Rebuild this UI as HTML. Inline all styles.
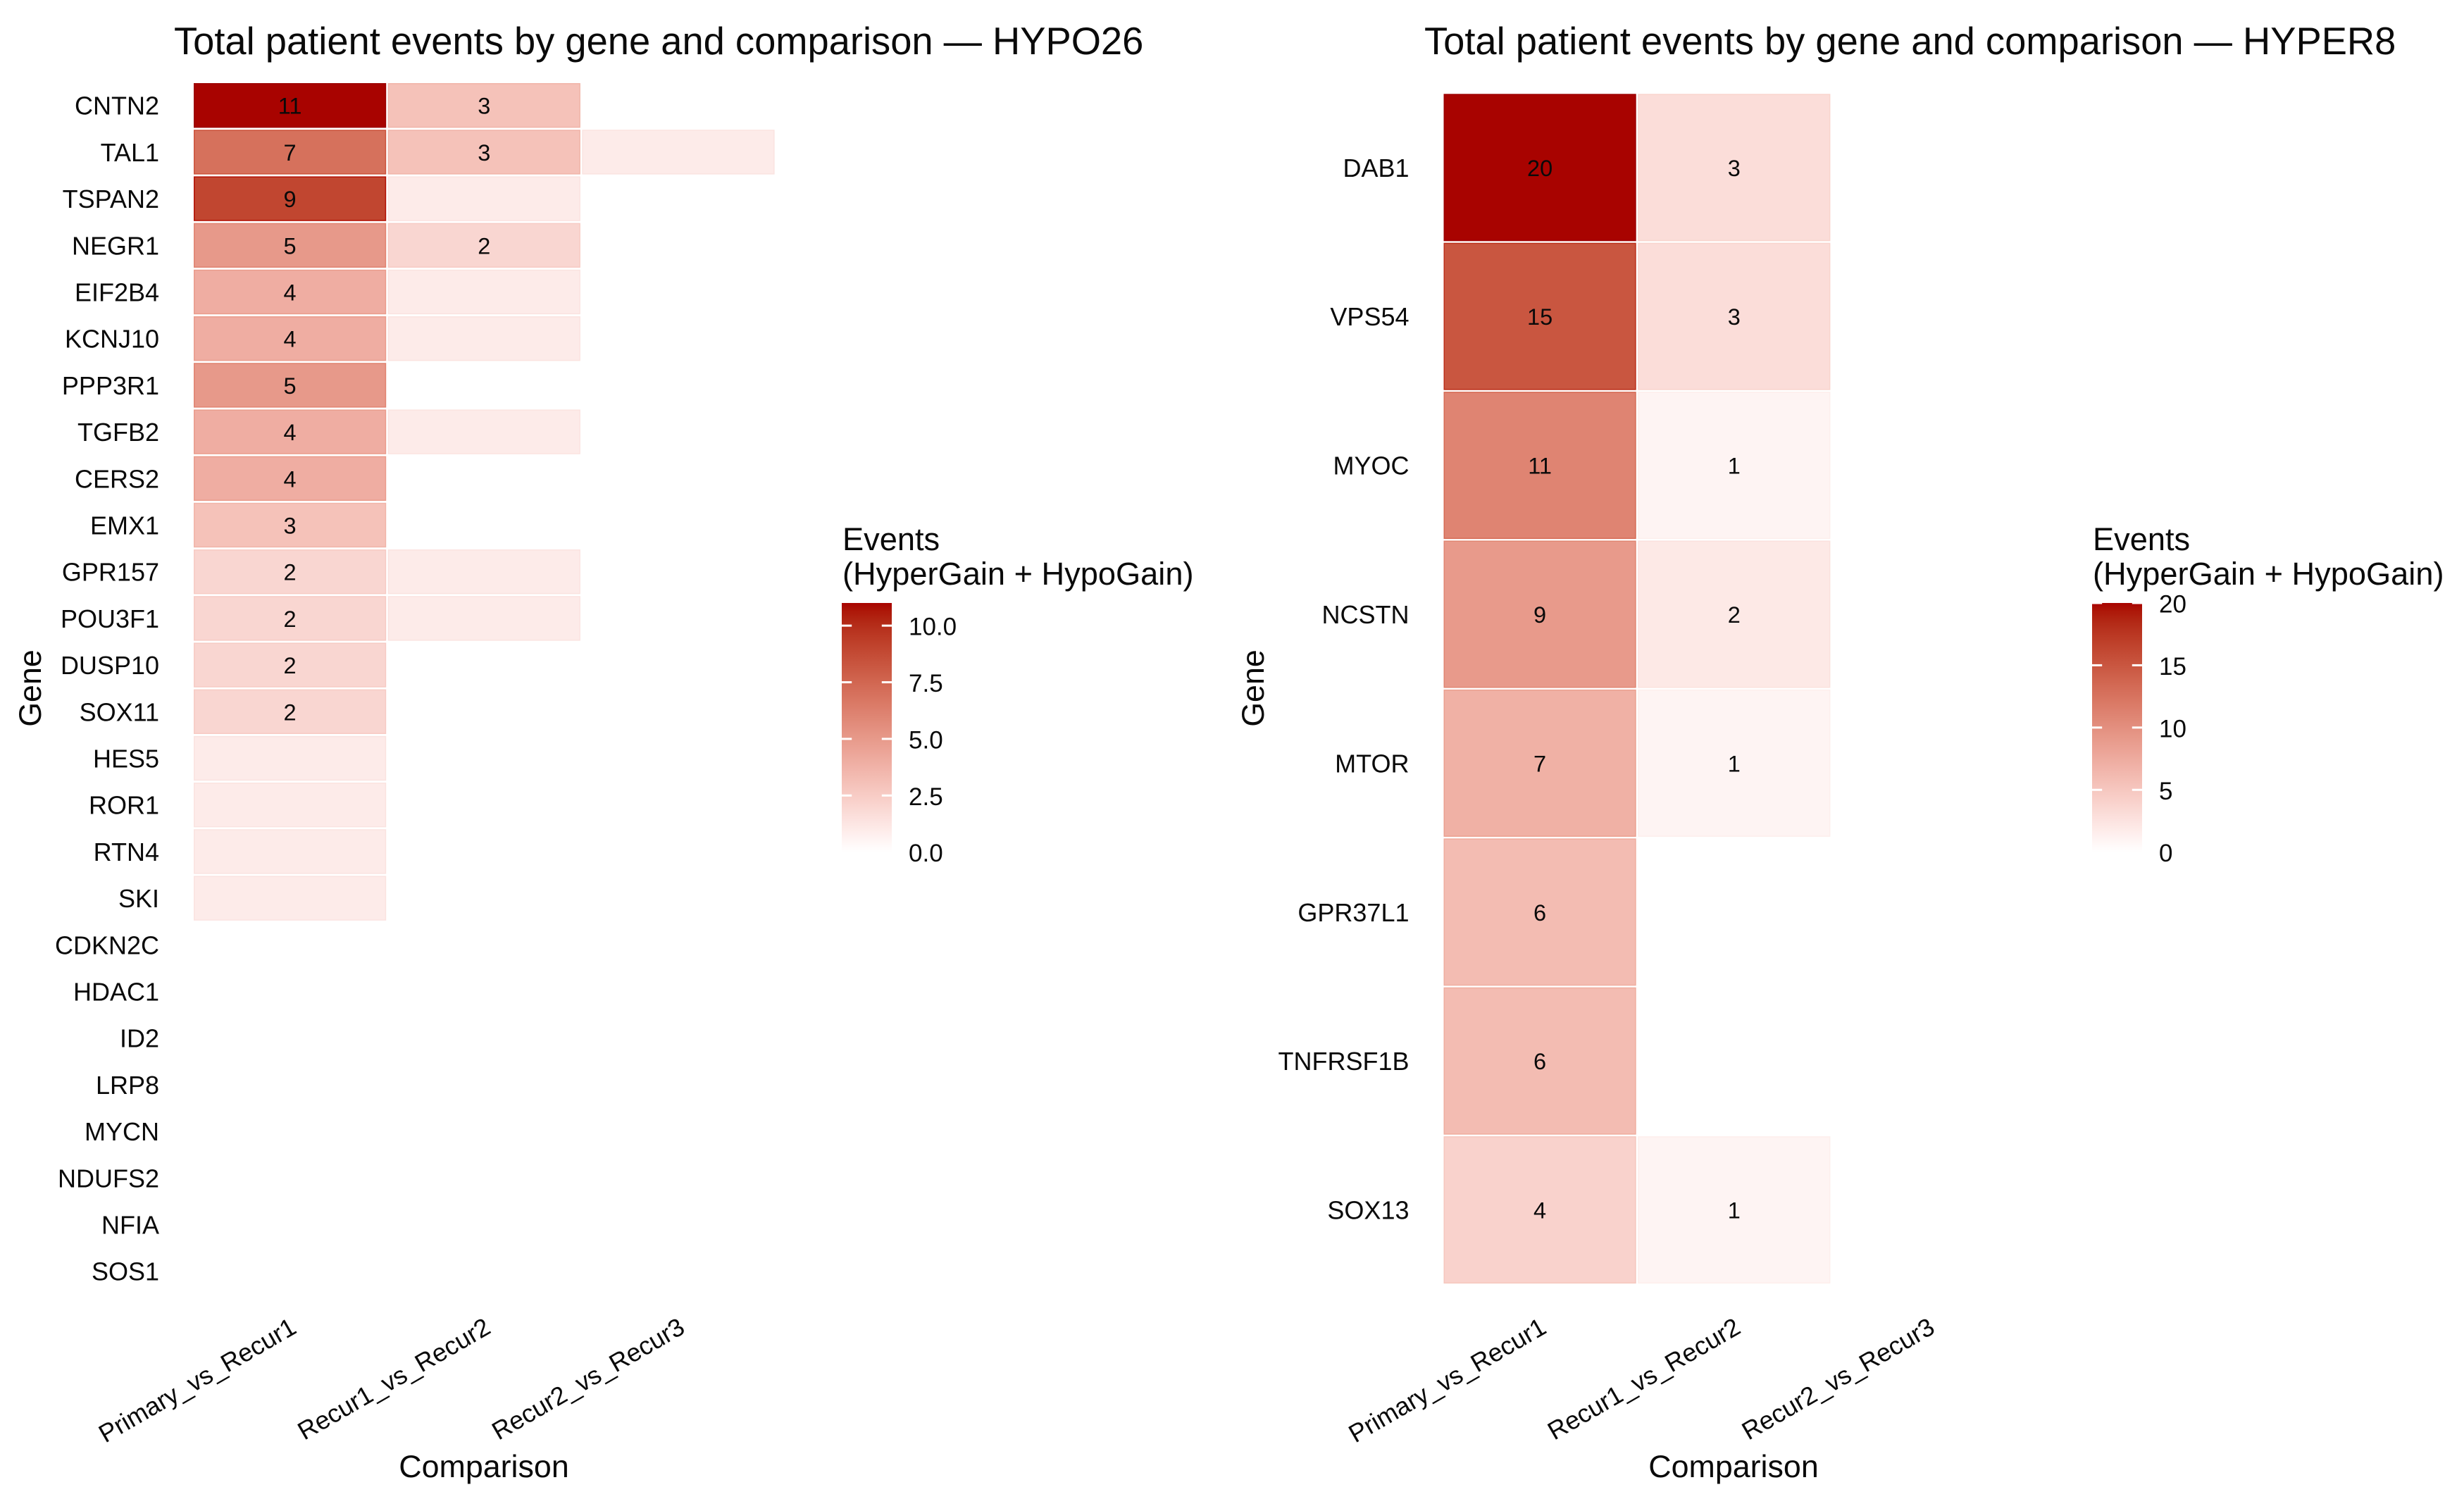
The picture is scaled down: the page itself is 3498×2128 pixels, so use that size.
<!DOCTYPE html>
<html lang="en">
<head>
<meta charset="utf-8">
<title>Total patient events by gene and comparison</title>
<style>
html,body{margin:0;padding:0;background:#fff;}
body{width:3498px;height:2128px;overflow:hidden;}
svg{display:block;}
text{font-family:"Liberation Sans",Arial,sans-serif;fill:#0a0a0a;}
</style>
</head>
<body>
<svg id="figure" xmlns="http://www.w3.org/2000/svg" width="3498" height="2128" viewBox="0 0 3498 2128">
  <defs id="defs"></defs>
  <rect x="0" y="0" width="3498" height="2128" fill="#ffffff"></rect>
  <g id="panel-hypo">
    <text x="247" y="77" font-size="54.3">Total patient events by gene and comparison — HYPO26</text>
    <text x="687" y="2097" font-size="44.8" text-anchor="middle">Comparison</text>
    <text transform="translate(58 977) rotate(-90)" font-size="44.8" text-anchor="middle">Gene</text>
    <text x="1196" y="781" font-size="45.2">Events</text>
    <text x="1196" y="830" font-size="45.2">(HyperGain + HypoGain)</text>
  </g>
  <g id="panel-hyper">
    <text x="2022" y="77" font-size="54.3">Total patient events by gene and comparison — HYPER8</text>
    <text x="2461" y="2097" font-size="44.8" text-anchor="middle">Comparison</text>
    <text transform="translate(1794 977) rotate(-90)" font-size="44.8" text-anchor="middle">Gene</text>
    <text x="2971" y="781" font-size="45.2">Events</text>
    <text x="2971" y="830" font-size="45.2">(HyperGain + HypoGain)</text>
  </g>
</svg>
<script>
// ---- chart data ----
const comparisons = ["Primary_vs_Recur1", "Recur1_vs_Recur2", "Recur2_vs_Recur3"];

const hypoGenes = ["CNTN2","TAL1","TSPAN2","NEGR1","EIF2B4","KCNJ10","PPP3R1","TGFB2","CERS2","EMX1","GPR157","POU3F1","DUSP10","SOX11","HES5","ROR1","RTN4","SKI","CDKN2C","HDAC1","ID2","LRP8","MYCN","NDUFS2","NFIA","SOS1"];
const hypoPrimaryVsRecur1 = [11,7,9,5,4,4,5,4,4,3,2,2,2,2,1,1,1,1,0,0,0,0,0,0,0,0];
const hypoRecur1VsRecur2  = [3,3,1,2,1,1,0,1,0,0,1,1,0,0,0,0,0,0,0,0,0,0,0,0,0,0];
const hypoRecur2VsRecur3  = [0,1,0,0,0,0,0,0,0,0,0,0,0,0,0,0,0,0,0,0,0,0,0,0,0,0];
const hypoLegendTicks = [0, 2.5, 5, 7.5, 10];
const hypoLegendLabels = ["0.0", "2.5", "5.0", "7.5", "10.0"];

const hyperGenes = ["DAB1","VPS54","MYOC","NCSTN","MTOR","GPR37L1","TNFRSF1B","SOX13"];
const hyperPrimaryVsRecur1 = [20,15,11,9,7,6,6,4];
const hyperRecur1VsRecur2  = [3,3,1,2,1,0,0,1];
const hyperRecur2VsRecur3  = [0,0,0,0,0,0,0,0];
const hyperLegendTicks = [0, 5, 10, 15, 20];
const hyperLegendLabels = ["0", "5", "10", "15", "20"];

// ---- colour scale: white to dark red, interpolated in Lab ----
function srgbToLin(c){c/=255;return c<=0.04045?c/12.92:Math.pow((c+0.055)/1.055,2.4);}
function linToSrgb(c){c=c<=0.0031308?12.92*c:1.055*Math.pow(c,1/2.4)-0.055;return Math.max(0,Math.min(255,Math.round(c*255)));}
function rgbToLab(r,g,b){
  const R=srgbToLin(r),G=srgbToLin(g),B=srgbToLin(b);
  const f=t=>t>0.008856?Math.cbrt(t):7.787*t+16/116;
  const x=f((0.4124*R+0.3576*G+0.1805*B)/0.95047),y=f(0.2126*R+0.7152*G+0.0722*B),z=f((0.0193*R+0.1192*G+0.9505*B)/1.08883);
  return [116*y-16,500*(x-y),200*(y-z)];
}
function labToCss(L,a,b){
  const fy=(L+16)/116,fx=fy+a/500,fz=fy-b/200;
  const g=t=>t*t*t>0.008856?t*t*t:(t-16/116)/7.787;
  const X=g(fx)*0.95047,Y=g(fy),Z=g(fz)*1.08883;
  const r=linToSrgb(3.2406*X-1.5372*Y-0.4986*Z),gg=linToSrgb(-0.9689*X+1.8758*Y+0.0415*Z),bb=linToSrgb(0.0557*X-0.2040*Y+1.0570*Z);
  return "rgb("+r+","+gg+","+bb+")";
}
const LOW=rgbToLab(255,255,255), HIGH=rgbToLab(168,3,0);
function rampColor(t){
  return labToCss(LOW[0]+(HIGH[0]-LOW[0])*Math.pow(t,1.015),LOW[1]+(HIGH[1]-LOW[1])*Math.pow(t,0.95),LOW[2]+(HIGH[2]-LOW[2])*Math.pow(t,1.14));
}
function edgeColor(t){
  const L=LOW[0]+(HIGH[0]-LOW[0])*t-Math.min(9,1+t*10);
  const k=t*1.22+0.02;
  return labToCss(L,LOW[1]+(HIGH[1]-LOW[1])*k,LOW[2]+(HIGH[2]-LOW[2])*Math.pow(k,1.14));
}

const SVGNS="http://www.w3.org/2000/svg";
function make(tag,parent){const el=document.createElementNS(SVGNS,tag);parent.appendChild(el);return el;}

function drawPanel(cfg){
  const root=document.getElementById(cfg.rootId);
  const series=cfg.series;
  const all=[].concat.apply([],series);
  const maxValue=Math.max.apply(null,all);

  const xBand=i=>cfg.left+i*cfg.colPitch;
  const yBand=i=>cfg.top+i*cfg.rowPitch;
  const fillScale=v=>v/maxValue;
  const legendY=v=>cfg.barBottom-(v/maxValue)*(cfg.barBottom-cfg.barTop);

  // y axis gene labels
  cfg.genes.forEach(function(g,r){
    const t=make("text",root);
    
    
    t.setAttribute("x",cfg.left-49);
    t.setAttribute("y",yBand(r)+cfg.cellH/2+13);
    t.setAttribute("font-size","36");
    t.setAttribute("text-anchor","end");
    t.textContent=g;
  });

  // x axis comparison labels
  comparisons.forEach(function(c,i){
    const cx=xBand(i)+cfg.cellW/2+11.5;
    const t=make("text",root);
    
    
    t.setAttribute("transform","translate("+cx+" 1891) rotate(-30)");
    t.setAttribute("font-size","36");
    t.setAttribute("text-anchor","end");
    t.textContent=c;
  });

  // heatmap cells and value labels
  series.forEach(function(values,c){
    values.forEach(function(v,r){
      const tv=fillScale(v);
      const cell=make("rect",root);
      
      
      cell.setAttribute("x",xBand(c)+0.75);
      cell.setAttribute("y",yBand(r)+0.75);
      cell.setAttribute("width",cfg.cellW-1.5);
      cell.setAttribute("height",cfg.cellH-1.5);
      cell.setAttribute("fill",rampColor(tv));
      cell.setAttribute("stroke",v>0?edgeColor(tv):"none");
      cell.setAttribute("stroke-width","1.5");
      if(v>=cfg.minLabel){
        const t=make("text",root);
        
        
        t.setAttribute("x",xBand(c)+cfg.cellW/2);
        t.setAttribute("y",yBand(r)+cfg.cellH/2+12);
        t.setAttribute("font-size","32.5");
        t.setAttribute("text-anchor","middle");
        t.textContent=String(v);
      }
    });
  });

  // legend colourbar
  const defs=document.getElementById("defs");
  const grad=make("linearGradient",defs);
  grad.setAttribute("id",cfg.rootId+"-grad");
  grad.setAttribute("x1","0");grad.setAttribute("y1","1");grad.setAttribute("x2","0");grad.setAttribute("y2","0");
  for(let i=0;i<=30;i++){
    const s=make("stop",grad);
    s.setAttribute("offset",(i/30*100)+"%");
    s.setAttribute("stop-color",rampColor(i/30));
  }
  const bar=make("rect",root);
  
  
  bar.setAttribute("x",cfg.barX);
  bar.setAttribute("y",cfg.barTop);
  bar.setAttribute("width",cfg.barW);
  bar.setAttribute("height",cfg.barBottom-cfg.barTop);
  bar.setAttribute("fill","url(#"+cfg.rootId+"-grad)");

  cfg.legendTicks.forEach(function(v,i){
    const y=legendY(v);
    if(v>0){
      [cfg.barX,cfg.barX+cfg.barW-cfg.barW/5].forEach(function(x0,side){
        const tick=make("line",root);
        
        
        tick.setAttribute("x1",x0);
        tick.setAttribute("x2",x0+cfg.barW/5);
        tick.setAttribute("y1",y);
        tick.setAttribute("y2",y);
        tick.setAttribute("stroke","#ffffff");
        tick.setAttribute("stroke-width","3");
      });
    }
    const lab=make("text",root);
    
    
    lab.setAttribute("x",cfg.barX+cfg.barW+24);
    lab.setAttribute("y",y+13.5);
    lab.setAttribute("font-size","35");
    lab.textContent=cfg.legendLabels[i];
  });
}

drawPanel({
  rootId:"panel-hypo",
  genes:hypoGenes,
  series:[hypoPrimaryVsRecur1,hypoRecur1VsRecur2,hypoRecur2VsRecur3],
  legendTicks:hypoLegendTicks,
  legendLabels:hypoLegendLabels,
  minLabel:2,
  left:275, top:118, colPitch:275.7, rowPitch:66.2, cellW:273.2, cellH:63.4,
  barX:1195, barW:71, barTop:856, barBottom:1209.7
});
drawPanel({
  rootId:"panel-hyper",
  genes:hyperGenes,
  series:[hyperPrimaryVsRecur1,hyperRecur1VsRecur2,hyperRecur2VsRecur3],
  legendTicks:hyperLegendTicks,
  legendLabels:hyperLegendLabels,
  minLabel:1,
  left:2049.5, top:133.3, colPitch:275.7, rowPitch:211.4, cellW:273.2, cellH:209,
  barX:2970, barW:71, barTop:856, barBottom:1209.7
});
</script>
</body>
</html>
